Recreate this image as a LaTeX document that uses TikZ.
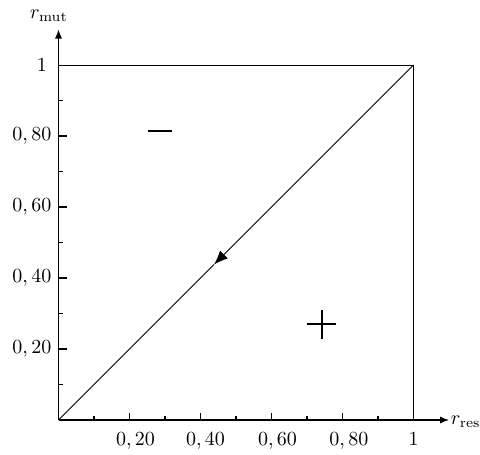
\documentclass[tikz,border=0pt]{standalone}
\usetikzlibrary{arrows.meta}
\begin{document}
\begin{tikzpicture}[x=177.5pt,y=177.5pt,
  axis/.style={line width=0.6pt,-{Latex[length=4.5pt,width=3.6pt]}},
  thinline/.style={line width=0.45pt},
  sign/.style={line width=0.9pt},
  ticklab/.style={inner sep=0pt,anchor=base}]
\useasboundingbox (-0.1648,-0.0958) rectangle (1.1873,1.1831);
% axes
\coordinate (O) at (0,0);
\coordinate (XE) at (1.1,0);
\coordinate (YE) at (0,1.1);
\draw[axis] (O) -- (XE);
\draw[axis] (O) -- (YE);
\node[inner sep=0pt,anchor=base west] (rres) at (1.104,-0.0127) {$r_{\mathrm{res}}$};
\node[inner sep=0pt,anchor=base] (rmut) at (-0.027,1.132) {$r_{\mathrm{mut}}$};
% ticks
\foreach \t in {0.1,0.3,0.5,0.7,0.9}{
  \draw[line width=0.6pt] (\t,0) -- (\t,0.012);
  \draw[line width=0.6pt] (0,\t) -- (0.014,\t);
}
\foreach \t in {0.2,0.4,0.6,0.8}{
  \draw[line width=0.6pt] (\t,0) -- (\t,0.021);
  \draw[line width=0.6pt] (0,\t) -- (0.025,\t);
}
% labels
\node[ticklab] (x2) at (0.217,-0.073) {$0,20$};
\node[ticklab] (x4) at (0.414,-0.073) {$0,40$};
\node[ticklab] (x6) at (0.617,-0.073) {$0,60$};
\node[ticklab] (x8) at (0.818,-0.073) {$0,80$};
\node[ticklab] (x10) at (1.0,-0.073) {$1$};
\node[anchor=east,inner sep=0pt] (y2) at (-0.019,0.2) {$0,20$};
\node[anchor=east,inner sep=0pt] (y4) at (-0.019,0.4) {$0,40$};
\node[anchor=east,inner sep=0pt] (y6) at (-0.019,0.6) {$0,60$};
\node[anchor=east,inner sep=0pt] (y8) at (-0.019,0.8) {$0,80$};
\node[inner sep=0pt] (y10) at (-0.047,1.0) {$1$};
% square
\coordinate (A) at (0,1);
\coordinate (B) at (1,1);
\coordinate (C) at (1,0);
\coordinate (M) at (0.438,0.438);
\draw[thinline] (A) -- (B) -- (C);
\draw[thinline,-{Latex[length=7pt,width=5.5pt]}] (B) -- (M);
\draw[thinline] (M) -- (O);
% signs
\draw[sign] (0.252,0.815) -- (0.320,0.815);
\draw[sign] (0.701,0.2696) -- (0.781,0.2696);
\draw[sign] (0.742,0.229) -- (0.742,0.309);
\end{tikzpicture}
\end{document}
